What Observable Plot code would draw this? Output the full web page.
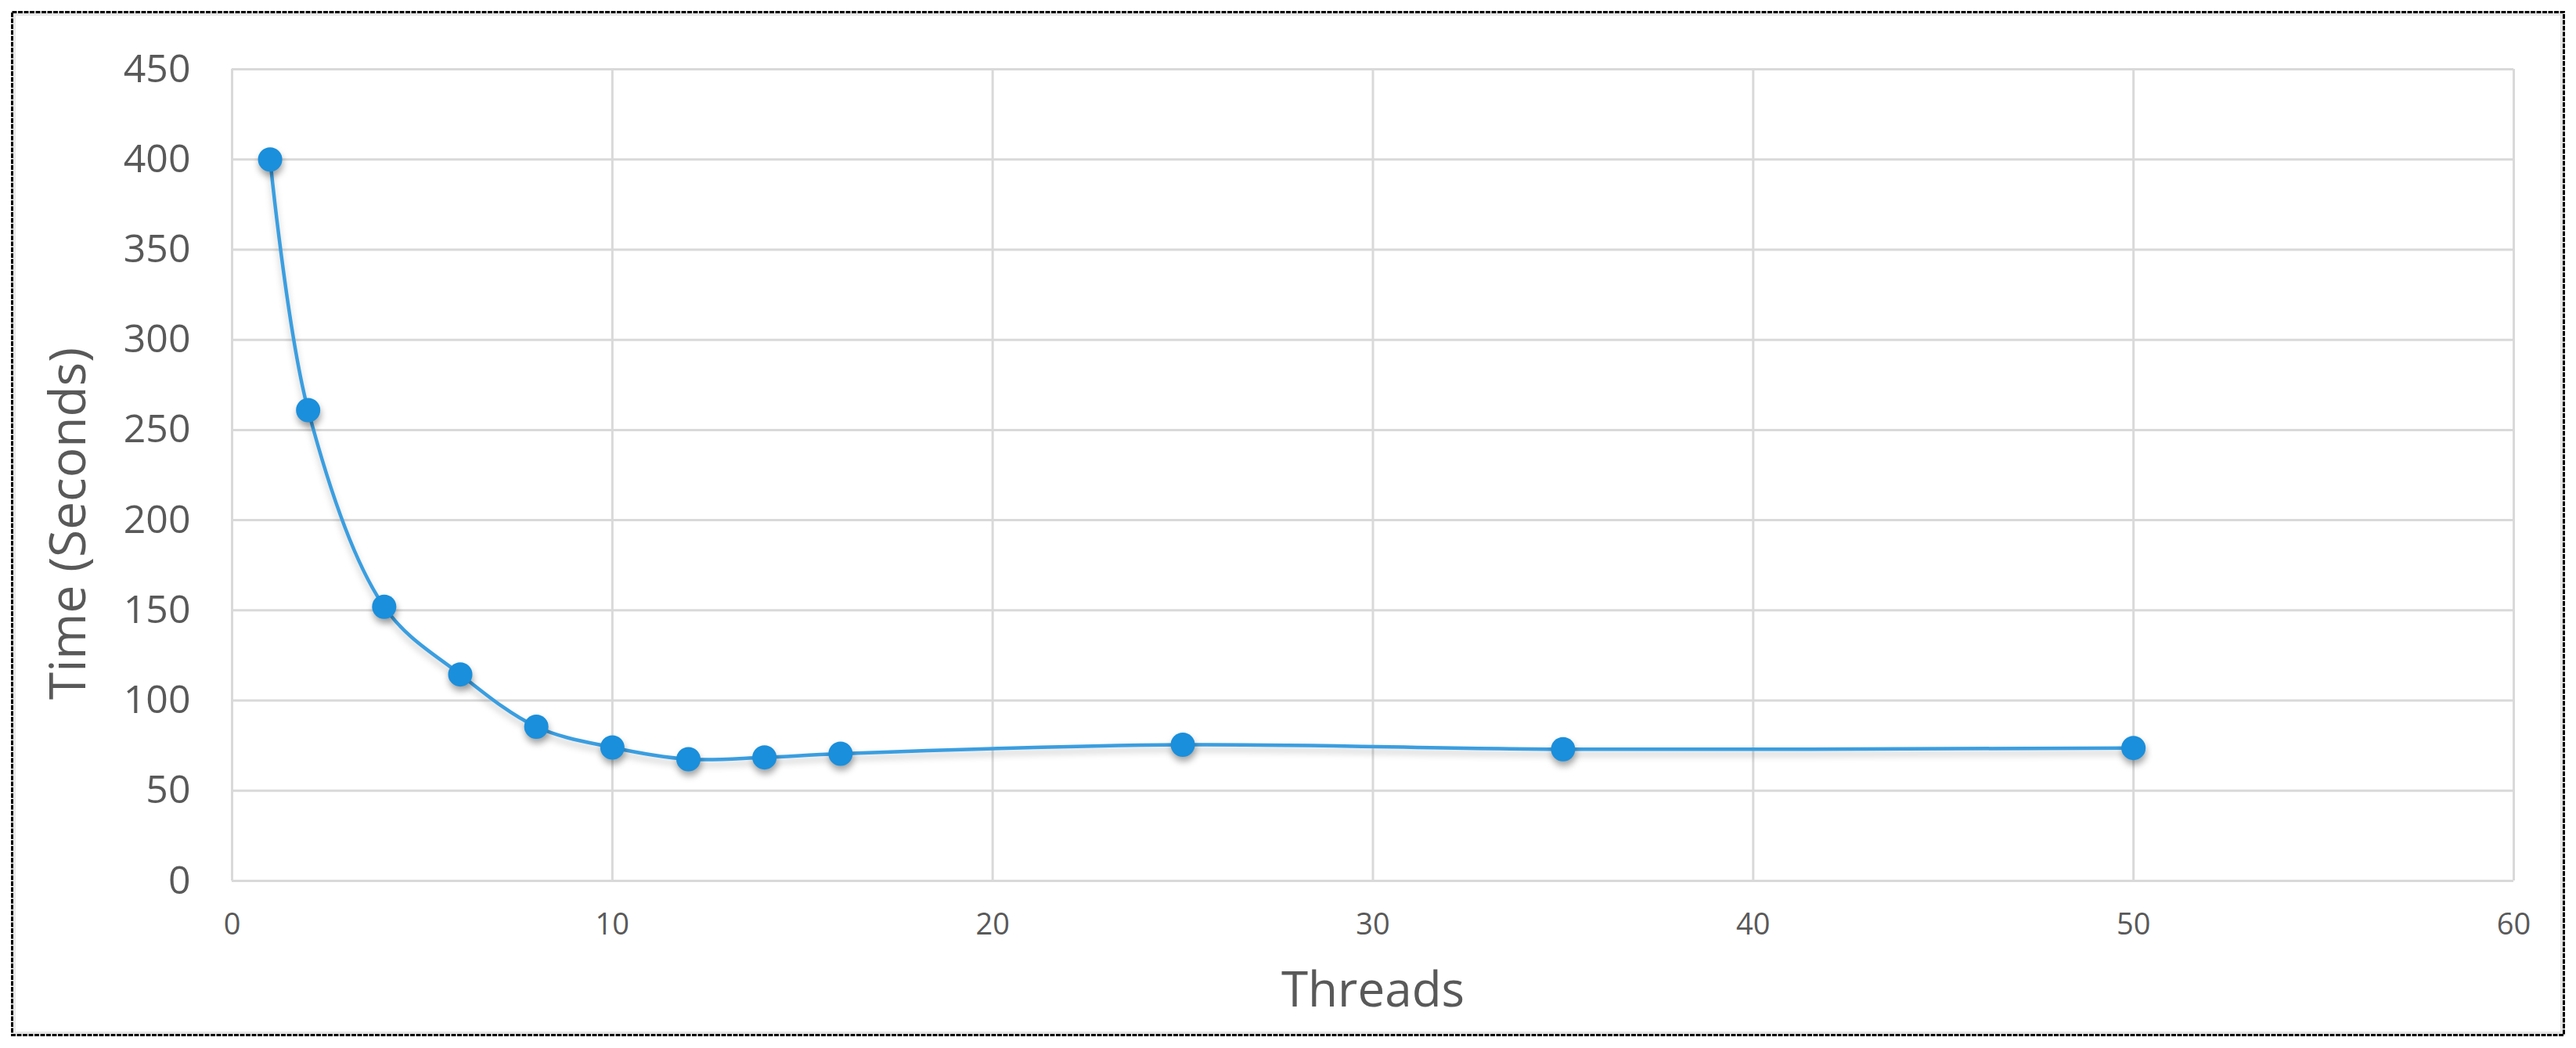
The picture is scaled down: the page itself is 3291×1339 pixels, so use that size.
<!DOCTYPE html>
<html><head><meta charset="utf-8">
<script src="https://cdn.jsdelivr.net/npm/d3@7"></script>
<script src="https://cdn.jsdelivr.net/npm/@observablehq/plot@0.6"></script>
<style>
html,body{margin:0;padding:0;background:#fff;}
#wrap{position:relative;width:3291px;height:1339px;overflow:hidden;background:#fff;}
#wrap svg{position:absolute;left:0;top:0;}
#inner{position:absolute;left:17px;top:17px;width:3257px;height:1304px;box-sizing:border-box;border:3px solid #e6e6e6;pointer-events:none;}
</style></head>
<body>
<div id="wrap"></div>
<script>
const threads = [1, 2, 4, 6, 8, 10, 12, 14, 16, 25, 35, 50];
const seconds = [400, 261, 152, 114.5, 85.5, 74, 67.5, 68.5, 70.5, 75.5, 73, 73.7];
const xTicks = [0, 10, 20, 30, 40, 50, 60];
const yTicks = [0, 50, 100, 150, 200, 250, 300, 350, 400, 450];
const xLabel = "Threads";
const yLabel = "Time (Seconds)";

const data = threads.map((t, i) => ({threads: t, seconds: seconds[i]}));

const chart = Plot.plot({
  width: 3291,
  height: 1339,
  marginLeft: 296,
  marginRight: 80,
  marginTop: 88,
  marginBottom: 214,
  style: {fontFamily: "'Open Sans', 'Noto Sans', sans-serif", color: "#595959", background: "transparent", maxWidth: "none"},
  x: {domain: [0, 60]},
  y: {domain: [0, 450]},
  marks: [
    Plot.gridX(xTicks, {stroke: "#d9d9d9", strokeOpacity: 1, strokeWidth: 3}),
    Plot.gridY(yTicks, {stroke: "#d9d9d9", strokeOpacity: 1, strokeWidth: 3}),
    Plot.axisX(xTicks, {tickSize: 0, tickPadding: 42, fontSize: 38, fill: "#595959", label: null}),
    Plot.axisY(yTicks, {tickSize: 0, tickPadding: 53, fontSize: 50, fill: "#595959", label: null}),
    Plot.line(data, {x: "threads", y: "seconds", curve: "catmull-rom", stroke: "#3a9ee0", strokeWidth: 4.5}),
    Plot.dot(data, {x: "threads", y: "seconds", r: 15.5, fill: "#1a8fdc", stroke: "none"}),
    Plot.text([xLabel], {text: d => d, frameAnchor: "bottom", lineAnchor: "middle", textAnchor: "middle", dy: 141, fontSize: 62, fill: "#595959"}),
    Plot.text([yLabel], {text: d => d, frameAnchor: "left", lineAnchor: "middle", textAnchor: "middle", rotate: -90, dx: -208, dy: 62, fontSize: 64, fill: "#595959"})
  ]
});

const wrap = document.getElementById("wrap");
wrap.appendChild(chart);
const lineG = chart.querySelector('g[aria-label="line"]');
if (lineG) lineG.style.filter = "drop-shadow(0px 6px 4px rgba(0,0,0,0.22))";
const dotG = chart.querySelector('g[aria-label="dot"]');
if (dotG) dotG.style.filter = "drop-shadow(1px 6px 4px rgba(0,0,0,0.35))";

// decorative chart-area border (inner soft edge + dotted outline)
const inner = document.createElement("div"); inner.id = "inner"; wrap.appendChild(inner);
const ns = "http://www.w3.org/2000/svg";
const deco = document.createElementNS(ns, "svg");
deco.setAttribute("width", 3291); deco.setAttribute("height", 1339);
deco.style.pointerEvents = "none";
const rect = document.createElementNS(ns, "rect");
rect.setAttribute("x", 15.5); rect.setAttribute("y", 15.5);
rect.setAttribute("width", 3260); rect.setAttribute("height", 1307);
rect.setAttribute("fill", "none"); rect.setAttribute("stroke", "#000");
rect.setAttribute("stroke-width", 3); rect.setAttribute("stroke-dasharray", "6 1.5");
deco.appendChild(rect);
wrap.appendChild(deco);
</script>
</body></html>
